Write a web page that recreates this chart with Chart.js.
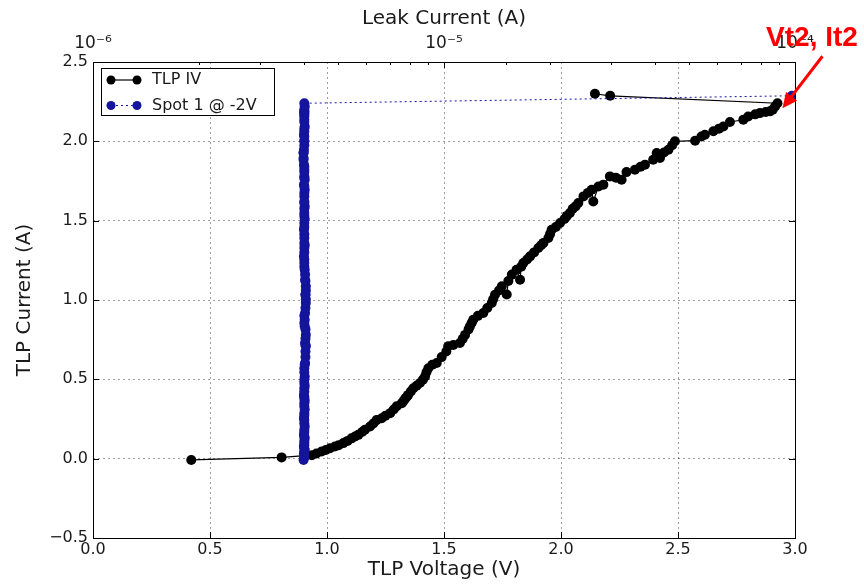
<!DOCTYPE html>
<html>
<head>
<meta charset="utf-8">
<script src="https://cdn.jsdelivr.net/npm/chart.js@4.4.1/dist/chart.umd.min.js"></script>
<style>
  html, body { margin: 0; padding: 0; background: #fff; }
  #wrap { width: 864px; height: 584px; }
</style>
</head>
<body>
<div id="wrap"><canvas id="chart" width="864" height="584"></canvas></div>
<script>
// one entry per TLP pulse
const tlpVoltage = [
  0.42, 0.806, 0.935, 0.955, 0.977, 0.995, 1.013, 1.034, 1.05, 1.07,
  1.088, 1.105, 1.12, 1.134, 1.15, 1.162, 1.184, 1.198, 1.212, 1.234,
  1.25, 1.27, 1.285, 1.298, 1.32, 1.328, 1.335, 1.342, 1.347, 1.358,
  1.369, 1.383, 1.397, 1.41, 1.419, 1.425, 1.433, 1.45, 1.469, 1.49,
  1.51, 1.518, 1.54, 1.568, 1.58, 1.59, 1.605, 1.611, 1.618, 1.625,
  1.645, 1.668, 1.685, 1.704, 1.71, 1.718, 1.735, 1.747, 1.768, 1.775,
  1.79, 1.81, 1.825, 1.83, 1.839, 1.855, 1.868, 1.885, 1.903, 1.915,
  1.925, 1.946, 1.953, 1.96, 1.978, 1.996, 2.015, 2.025, 2.038, 2.05,
  2.062, 2.074, 2.096, 2.115, 2.131, 2.138, 2.16, 2.181, 2.209, 2.235,
  2.259, 2.28, 2.316, 2.34, 2.359, 2.394, 2.409, 2.423, 2.44, 2.459,
  2.475, 2.487, 2.573, 2.6, 2.615, 2.651, 2.675, 2.694, 2.722, 2.779,
  2.8, 2.83, 2.85, 2.875, 2.893, 2.905, 2.915, 2.925, 2.21, 2.145
];
const tlpCurrent = [
  -0.008, 0.008, 0.022, 0.032, 0.045, 0.055, 0.066, 0.077, 0.085, 0.098,
  0.112, 0.128, 0.14, 0.15, 0.168, 0.182, 0.203, 0.222, 0.243, 0.255,
  0.27, 0.287, 0.31, 0.33, 0.35, 0.365, 0.38, 0.392, 0.402, 0.423,
  0.444, 0.46, 0.477, 0.498, 0.518, 0.545, 0.57, 0.592, 0.603, 0.64,
  0.675, 0.708, 0.716, 0.729, 0.755, 0.78, 0.815, 0.834, 0.855, 0.876,
  0.9, 0.918, 0.95, 0.981, 1.005, 1.033, 1.06, 1.086, 1.035, 1.12,
  1.16, 1.19, 1.128, 1.21, 1.233, 1.255, 1.275, 1.3, 1.328, 1.345,
  1.36, 1.391, 1.415, 1.443, 1.46, 1.485, 1.51, 1.53, 1.548, 1.575,
  1.59, 1.611, 1.653, 1.675, 1.695, 1.621, 1.715, 1.727, 1.779, 1.77,
  1.758, 1.806, 1.821, 1.84, 1.853, 1.884, 1.926, 1.895, 1.93, 1.947,
  1.975, 2.0, 2.004, 2.03, 2.042, 2.063, 2.08, 2.094, 2.122, 2.136,
  2.157, 2.17, 2.178, 2.185, 2.189, 2.2, 2.22, 2.24, 2.287, 2.3
];
// spot 1 leakage read at -2V after each pulse, in uA
const leakMicroAmp = [
  3.98, 4.0, 4.0, 3.99, 4.0, 4.01, 4.0, 3.99, 4.0, 4.0,
  4.0, 4.01, 4.0, 3.99, 4.0, 4.0, 4.01, 4.0, 4.0, 3.99,
  4.0, 4.0, 4.01, 4.0, 4.0, 4.01, 4.0, 4.0, 3.99, 4.0,
  4.0, 4.01, 4.0, 4.0, 4.01, 4.0, 4.0, 4.01, 4.02, 4.03,
  4.03, 4.04, 4.03, 4.02, 4.03, 4.04, 4.03, 4.01, 4.0, 4.01,
  4.0, 4.02, 4.03, 4.04, 4.04, 4.03, 4.04, 4.04, 4.03, 4.03,
  4.02, 4.01, 4.02, 4.0, 4.0, 4.0, 3.99, 4.0, 4.0, 4.01,
  4.0, 4.0, 4.0, 3.99, 4.0, 4.0, 4.01, 4.0, 4.0, 4.0,
  4.01, 4.0, 4.0, 4.0, 4.01, 4.0, 4.0, 3.99, 4.0, 4.0,
  4.01, 4.0, 4.0, 4.0, 3.99, 3.98, 3.98, 3.98, 3.98, 3.99,
  4.0, 4.0, 4.0, 4.0, 3.99, 4.0, 4.0, 4.01, 4.0, 4.0,
  4.0, 4.0, 4.0, 4.0, 4.0, 4.0, 4.01, 4.0, 98, 150
];

const seriesNames = ["TLP IV", "Spot 1 @ -2V"];
const voltageRange = [0, 3];
const currentRange = [-0.5, 2.5];
const leakRange = [1e-6, 1e-4];
const failLabel = "Vt2, It2";

const gridColor = "rgba(0,0,0,0.38)";
const textColor = "#1a1a1a";
const spotBlue = "#14149c";

Chart.defaults.font.family = "'DejaVu Sans', sans-serif";
Chart.defaults.color = textColor;

const supDigits = { "-": "\u207B", "0": "\u2070", "1": "\u00B9", "2": "\u00B2", "3": "\u00B3",
  "4": "\u2074", "5": "\u2075", "6": "\u2076", "7": "\u2077", "8": "\u2078", "9": "\u2079" };

function isDecade(v) {
  const l = Math.log10(v);
  return Math.abs(l - Math.round(l)) < 1e-6;
}

// inside ticks + black frame, like matplotlib
const axisFrame = {
  id: "axisFrame",
  afterDatasetsDraw(chart) {
    const { ctx, chartArea: a, scales } = chart;
    ctx.save();
    ctx.strokeStyle = "#000";
    ctx.lineWidth = 1;
    ctx.beginPath();
    scales.x.ticks.forEach((t) => {
      const px = Math.round(scales.x.getPixelForValue(t.value)) + 0.5;
      ctx.moveTo(px, a.bottom);
      ctx.lineTo(px, a.bottom - 6);
    });
    scales.y.ticks.forEach((t) => {
      const py = Math.round(scales.y.getPixelForValue(t.value)) + 0.5;
      ctx.moveTo(a.left, py);
      ctx.lineTo(a.left + 6, py);
      ctx.moveTo(a.right, py);
      ctx.lineTo(a.right - 6, py);
    });
    scales.x2.ticks.forEach((t) => {
      const px = Math.round(scales.x2.getPixelForValue(t.value)) + 0.5;
      ctx.moveTo(px, a.top);
      ctx.lineTo(px, a.top + (isDecade(t.value) ? 6 : 3));
    });
    ctx.stroke();
    ctx.strokeRect(a.left + 0.5, a.top + 0.5, a.right - a.left, a.bottom - a.top);
    ctx.restore();
  },
};

// boxed legend in the upper left corner
const boxLegend = {
  id: "boxLegend",
  afterDatasetsDraw(chart) {
    const { ctx } = chart;
    const x0 = 101, y0 = 68, w = 173, h = 47;
    ctx.save();
    ctx.fillStyle = "#fff";
    ctx.fillRect(x0, y0, w, h);
    ctx.strokeStyle = "#000";
    ctx.lineWidth = 1;
    ctx.strokeRect(x0 + 0.5, y0 + 0.5, w, h);
    chart.data.datasets.forEach((ds, i) => {
      const cy = y0 + 12 + i * 25.5;
      ctx.strokeStyle = ds.borderColor;
      ctx.lineWidth = ds.borderWidth;
      ctx.setLineDash(ds.borderDash || []);
      ctx.beginPath();
      ctx.moveTo(111, cy);
      ctx.lineTo(137, cy);
      ctx.stroke();
      ctx.setLineDash([]);
      ctx.fillStyle = ds.pointBackgroundColor;
      [111, 137].forEach((px) => {
        ctx.beginPath();
        ctx.arc(px, cy, 4.5, 0, Math.PI * 2);
        ctx.fill();
      });
      ctx.fillStyle = textColor;
      ctx.font = "16px 'DejaVu Sans'";
      ctx.textBaseline = "middle";
      ctx.fillText(ds.label, 152, cy);
    });
    ctx.restore();
  },
};

// red arrow pointing at the last point before failure
const failMark = {
  id: "failMark",
  afterDraw(chart) {
    const { ctx, scales } = chart;
    const k = tlpVoltage.indexOf(Math.max(...tlpVoltage));
    const tipX = scales.x.getPixelForValue(tlpVoltage[k]) + 5;
    const tipY = scales.y.getPixelForValue(tlpCurrent[k]) + 5;
    const tailX = tipX + 40, tailY = tipY - 52;
    const ang = Math.atan2(tipY - tailY, tipX - tailX);
    ctx.save();
    ctx.strokeStyle = "#ff0000";
    ctx.fillStyle = "#ff0000";
    ctx.lineWidth = 3;
    ctx.beginPath();
    ctx.moveTo(tailX, tailY);
    ctx.lineTo(tipX - 10 * Math.cos(ang), tipY - 10 * Math.sin(ang));
    ctx.stroke();
    ctx.beginPath();
    ctx.moveTo(tipX, tipY);
    ctx.lineTo(tipX - 15 * Math.cos(ang) + 7 * Math.sin(ang), tipY - 15 * Math.sin(ang) - 7 * Math.cos(ang));
    ctx.lineTo(tipX - 15 * Math.cos(ang) - 7 * Math.sin(ang), tipY - 15 * Math.sin(ang) + 7 * Math.cos(ang));
    ctx.closePath();
    ctx.fill();
    ctx.font = "bold 28px 'Liberation Sans', Arial, sans-serif";
    ctx.textAlign = "center";
    ctx.textBaseline = "middle";
    ctx.fillText(failLabel, 812, 38);
    ctx.restore();
  },
};

new Chart(document.getElementById("chart"), {
  type: "scatter",
  data: {
    datasets: [
      {
        label: seriesNames[0],
        data: tlpVoltage.map((v, i) => ({ x: v, y: tlpCurrent[i] })),
        xAxisID: "x",
        showLine: true,
        borderColor: "#000",
        borderWidth: 1.2,
        pointRadius: 5,
        pointBackgroundColor: "#000",
        pointBorderWidth: 0,
        order: 2,
      },
      {
        label: seriesNames[1],
        data: leakMicroAmp.map((v, i) => ({ x: v * 1e-6, y: tlpCurrent[i] })),
        xAxisID: "x2",
        showLine: true,
        borderColor: spotBlue,
        borderDash: [2, 3],
        borderWidth: 1,
        pointRadius: 5,
        pointBackgroundColor: spotBlue,
        pointBorderWidth: 0,
        order: 1,
      },
    ],
  },
  options: {
    responsive: false,
    animation: false,
    layout: { padding: { left: 0, right: 69, top: 0, bottom: 0 } },
    plugins: { legend: { display: false }, tooltip: { enabled: false } },
    scales: {
      x: {
        type: "linear",
        position: "bottom",
        min: voltageRange[0],
        max: voltageRange[1],
        ticks: { stepSize: 0.5, padding: 2, font: { size: 16 }, callback: (v) => v.toFixed(1) },
        grid: { color: gridColor, drawTicks: false },
        border: { display: false, dash: [2, 3] },
        title: { display: true, text: "TLP Voltage (V)", font: { size: 20 }, padding: { top: 0, bottom: 2 } },
        afterFit: (s) => { s.height = 46; },
      },
      x2: {
        type: "logarithmic",
        position: "top",
        min: leakRange[0],
        max: leakRange[1],
        ticks: {
          autoSkip: false,
          maxRotation: 0,
          minRotation: 0,
          padding: 0,
          font: { size: 17 },
          callback: (v) => {
            if (!isDecade(v)) return "";
            const e = String(Math.round(Math.log10(v)));
            return "10" + e.split("").map((c) => supDigits[c]).join("");
          },
        },
        grid: { display: false },
        border: { display: false },
        title: { display: true, text: "Leak Current (A)", font: { size: 20 }, padding: { top: 7, bottom: 0 } },
        afterFit: (s) => { s.height = 62; },
      },
      y: {
        min: currentRange[0],
        max: currentRange[1],
        ticks: { stepSize: 0.5, padding: 5, font: { size: 16 }, callback: (v) => v.toFixed(1).replace("-", "\u2212") },
        grid: { color: gridColor, drawTicks: false },
        border: { display: false, dash: [2, 3] },
        title: { display: true, text: "TLP Current (A)", font: { size: 20 }, padding: { top: 13, bottom: 0 } },
        afterFit: (s) => { s.width = 93; },
      },
    },
  },
  plugins: [axisFrame, boxLegend, failMark],
});
</script>
</body>
</html>
